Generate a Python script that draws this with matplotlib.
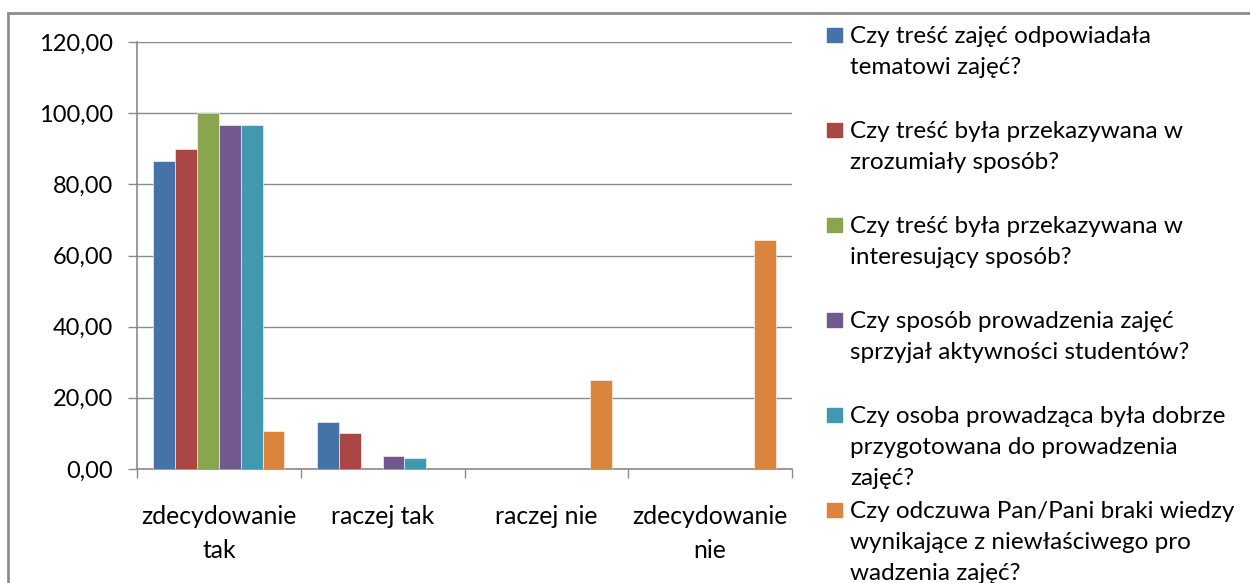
import numpy as np
import matplotlib
matplotlib.use("Agg")
import matplotlib.pyplot as plt
from matplotlib.patches import Rectangle
from matplotlib.ticker import FuncFormatter, FixedLocator

plt.rcParams['font.family'] = ['Lato', 'DejaVu Sans']

categories = ["zdecydowanie\ntak", "raczej tak", "raczej nie", "zdecydowanie\nnie"]
series_names = [
    "Czy treść zajęć odpowiadała\ntematowi zajęć?",
    "Czy treść była przekazywana w\nzrozumiały sposób?",
    "Czy treść była przekazywana w\ninteresujący sposób?",
    "Czy sposób prowadzenia zajęć\nsprzyjał aktywności studentów?",
    "Czy osoba prowadząca była dobrze\nprzygotowana do prowadzenia\nzajęć?",
    "Czy odczuwa Pan/Pani braki wiedzy\nwynikające z niewłaściwego pro\nwadzenia zajęć?",
]
tresc_temat = [86.67, 13.33, 0, 0]
tresc_zrozumialy = [90.00, 10.00, 0, 0]
tresc_interesujacy = [100.00, 0, 0, 0]
aktywnosc = [96.55, 3.65, 0, 0]
przygotowanie = [96.67, 3.20, 0, 0]
braki_wiedzy = [10.71, 0, 25.00, 64.29]
values = [tresc_temat, tresc_zrozumialy, tresc_interesujacy,
          aktywnosc, przygotowanie, braki_wiedzy]
colors = ["#4572A7", "#AA4643", "#89A54E", "#71588F", "#4198AF", "#DB843D"]

W, H = 1250, 583
fig = plt.figure(figsize=(W / 100, H / 100), dpi=100)
ax = fig.add_axes([137 / W, 1 - 469 / H, (792 - 137) / W, (469 - 42) / H])

x = np.arange(len(categories))
n = len(values)
bw = 0.8 / n
for i, (vals, col) in enumerate(zip(values, colors)):
    ax.bar(x - 0.4 + bw * (i + 0.5), vals, width=bw, color=col,
           edgecolor="white", linewidth=0.4, zorder=3)

ax.set_xlim(-0.5, len(categories) - 0.5)
ax.set_ylim(0, 120)
ax.set_yticks(np.arange(0, 121, 20))
ax.yaxis.set_major_formatter(FuncFormatter(lambda v, p: f"{v:.2f}".replace(".", ",")))
ax.yaxis.grid(True, color="#8a8a8a", linewidth=1.0, zorder=0)

ax.xaxis.set_major_locator(FixedLocator(np.arange(-0.5, len(categories), 1.0)))
ax.xaxis.set_major_formatter(FuncFormatter(lambda v, p: ""))
ax.xaxis.set_minor_locator(FixedLocator(x))
ax.set_xticklabels(categories, minor=True, linespacing=1.55)

ax.tick_params(axis="y", length=6.5, width=1, color="#8a8a8a", pad=11,
               labelsize=17, labelcolor="black")
ax.tick_params(axis="x", which="major", length=6.5, width=1, color="#8a8a8a")
ax.tick_params(axis="x", which="minor", length=0, pad=26, labelsize=17.8,
               labelcolor="black")

for s in ["top", "right"]:
    ax.spines[s].set_visible(False)
for s in ["left", "bottom"]:
    ax.spines[s].set_color("#8a8a8a")
    ax.spines[s].set_linewidth(1.2)

# legend drawn by hand, Excel-like fixed spacing
for i, (name, col) in enumerate(zip(series_names, colors)):
    yc = 34.5 + 95 * i
    fig.add_artist(Rectangle((827 / W, 1 - (yc + 7) / H), 15 / W, 14 / H,
                             transform=fig.transFigure, color=col))
    for j, line in enumerate(name.split("\n")):
        fig.text(850 / W, 1 - (43 + 95 * i + 30.8 * j) / H, line,
                 fontsize=17.5, va="baseline", ha="left", color="black")

# chart area border (cut off on the right and bottom)
fig.add_artist(Rectangle((8 / W, -0.1), 1.2, 1 - 13 / H + 0.1,
                         transform=fig.transFigure, fill=False,
                         edgecolor="#8c8c8c", linewidth=2))

fig.savefig("out.png", dpi=100)
